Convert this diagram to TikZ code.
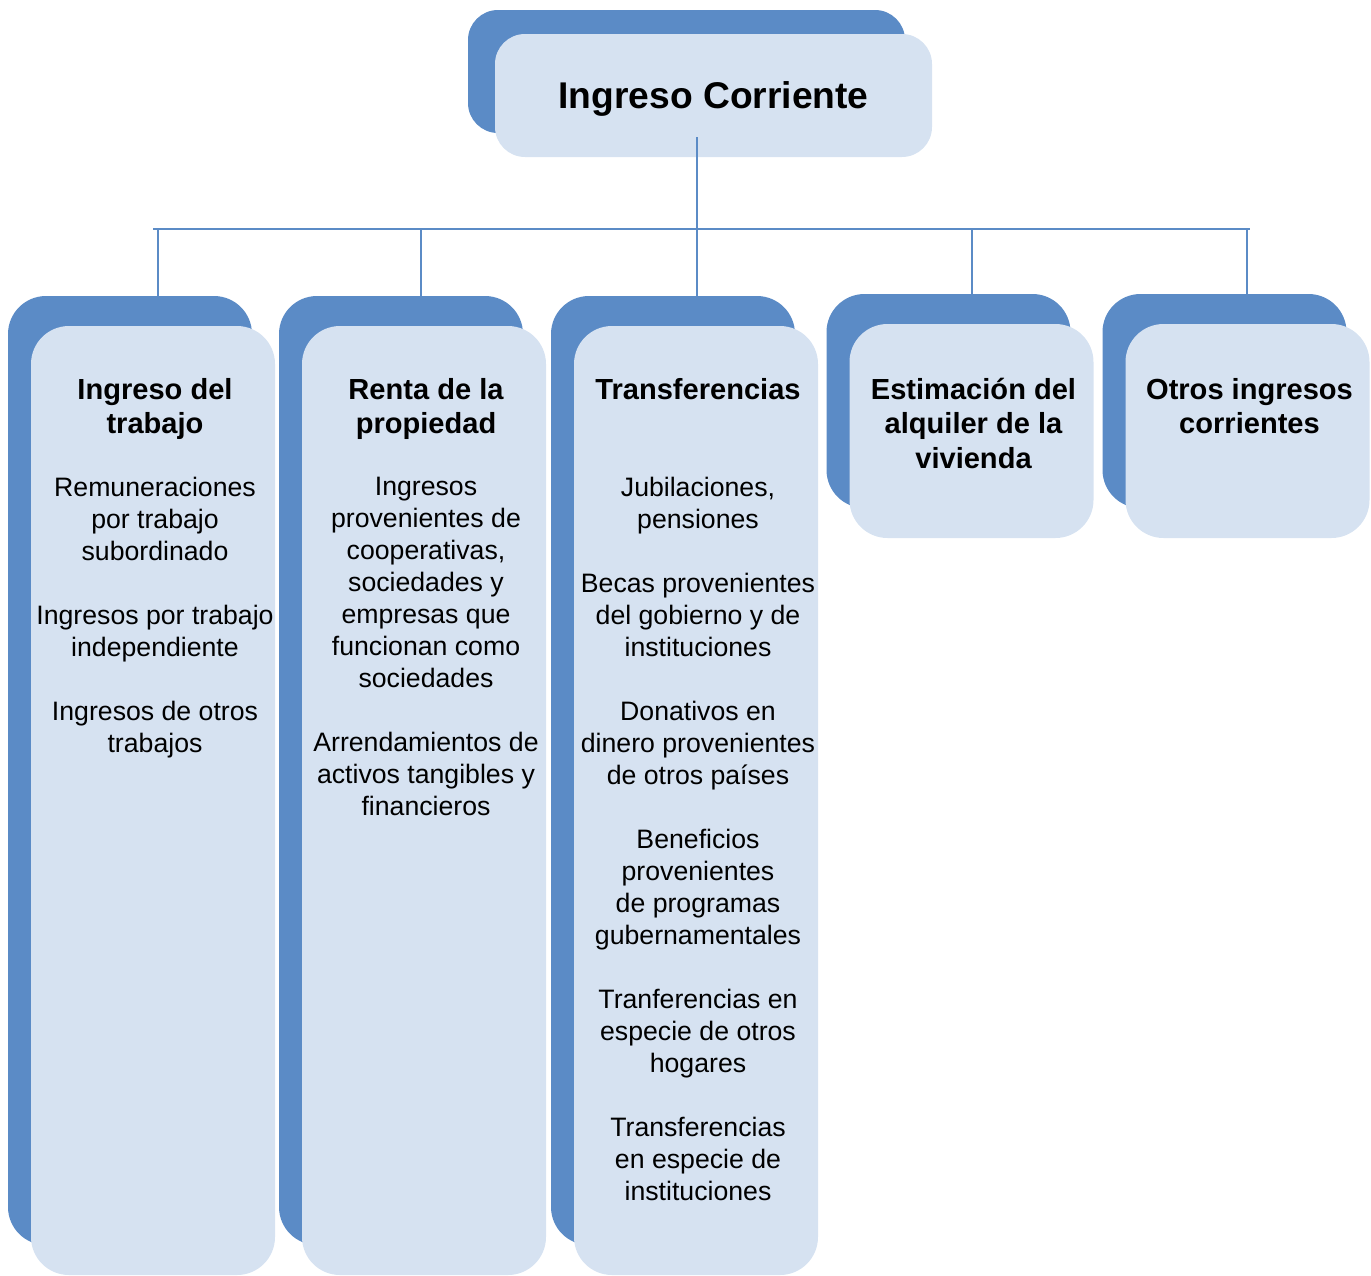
\documentclass[tikz,border=0pt]{standalone}
\usepackage{fontspec}
\setmainfont{Liberation Sans}
\usetikzlibrary{positioning,shadows}
\definecolor{boxdark}{RGB}{91,139,198}
\definecolor{boxlight}{RGB}{214,226,241}

\begin{document}
\begin{tikzpicture}[x=0.75pt,y=-0.75pt,
    front/.style={fill=boxlight,draw=none,inner sep=0pt,rounded corners=28.5pt},
    colbox/.style={front,minimum width=183pt,minimum height=#1,
        general shadow={fill=boxdark,shadow xshift=-17.25pt,shadow yshift=22.5pt}},
    rootbox/.style={front,rounded corners=22.5pt,minimum width=327.75pt,minimum height=92.25pt,
        text depth=0pt,font=\fontsize{27.9pt}{33pt}\selectfont\bfseries,
        general shadow={fill=boxdark,shadow xshift=-20.25pt,shadow yshift=18pt}},
    head/.style={anchor=north,inner sep=0pt,align=center,xshift=1.5pt,
        font=\fontsize{21.8pt}{25.9pt}\selectfont\bfseries},
    body/.style={anchor=north,inner sep=0pt,align=center,xshift=1.5pt,
        font=\fontsize{20pt}{24pt}\selectfont},
    link/.style={draw=boxdark,line width=1.7pt}]

  \useasboundingbox (0,0) rectangle (1371,1275);

  % boxes
  \node [rootbox] (root) at (713.5,95.5) {Ingreso Corriente} ;

  \node [colbox=711.75pt] (c1) at (153,800.5) {} ;
  \node [colbox=711.75pt] (c2) at (424,800.5) {} ;
  \node [colbox=711.75pt] (c3) at (696,800.5) {} ;
  \node [colbox=160.5pt,general shadow={shadow yshift=21pt}] (c4) at (971.5,431) {} ;
  \node [colbox=160.5pt,general shadow={shadow yshift=21pt}] (c5) at (1247.5,431) {} ;

  % headings
  \node [head,below=39pt of c1.north] (h1) {Ingreso del\\trabajo} ;
  \node [head,below=39pt of c2.north] (h2) {Renta de la\\propiedad} ;
  \node [head,below=39pt of c3.north] (h3) {Transferencias} ;
  \node [head,below=40.5pt of c4.north] (h4) {Estimación del\\alquiler de la\\vivienda} ;
  \node [head,below=40.5pt of c5.north] (h5) {Otros ingresos\\corrientes} ;

  % contents
  \node [body,below=113.25pt of c1.north] (b1) {Remuneraciones\\por trabajo\\subordinado\\[24pt]
    Ingresos por trabajo\\independiente\\[24pt]
    Ingresos de otros\\trabajos} ;
  \node [body,below=113.25pt of c2.north] (b2) {Ingresos\\provenientes de\\cooperativas,\\sociedades y\\
    empresas que\\funcionan como\\sociedades\\[24pt]
    Arrendamientos de\\activos tangibles y\\financieros} ;
  \node [body,below=113.25pt of c3.north] (b3) {Jubilaciones,\\pensiones\\[24pt]
    Becas provenientes\\del gobierno y de\\instituciones\\[24pt]
    Donativos en\\dinero provenientes\\de otros países\\[24pt]
    Beneficios\\provenientes\\de programas\\gubernamentales\\[24pt]
    Tranferencias en\\especie de otros\\hogares\\[24pt]
    Transferencias\\en especie de\\instituciones} ;

  % connectors
  \coordinate (stem) at (697,137) ;
  \coordinate (barl) at (153,229) ;
  \coordinate (barr) at (1250,229) ;
  \coordinate (t1) at (158,296) ;
  \coordinate (t2) at (421,296) ;
  \coordinate (t3) at (697,296) ;
  \coordinate (t4) at (972,296) ;
  \coordinate (t5) at (1247,296) ;

  \draw [link] (stem) -- (stem |- barl) ;
  \draw [link] (barl) -- (barr) ;
  \foreach \t in {t1,t2,t3,t4,t5}
    \draw [link] (\t |- barl) -- (\t) ;

\end{tikzpicture}
\end{document}
